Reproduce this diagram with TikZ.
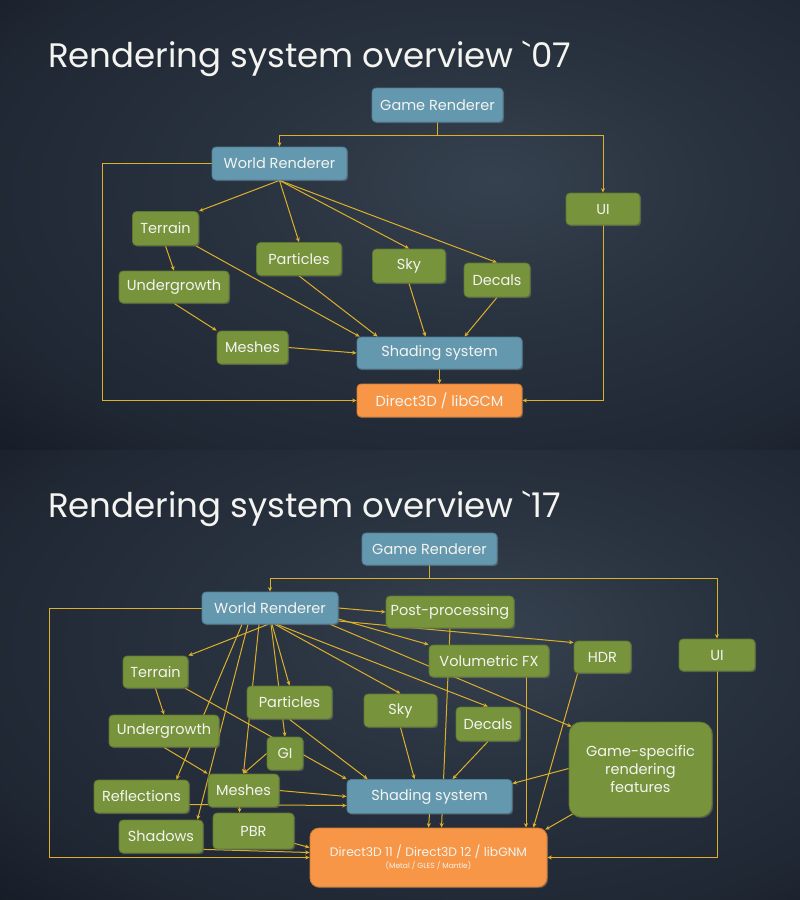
\documentclass[tikz,border=0pt]{standalone}
\usepackage{fontspec}
\setmainfont{Poppins}
\usetikzlibrary{arrows.meta,calc,shadows}
\definecolor{nblue}{HTML}{6498AF}
\definecolor{nbluedk}{HTML}{4E7E94}
\definecolor{ngreen}{HTML}{77933C}
\definecolor{ngreendk}{HTML}{5E7530}
\definecolor{norange}{HTML}{F79646}
\definecolor{norangedk}{HTML}{D07A32}
\definecolor{wire}{HTML}{DDB02A}
\definecolor{bgA}{HTML}{36414F}
\definecolor{bgB}{HTML}{1F2733}
\definecolor{bgC}{HTML}{0A0C13}
\definecolor{txt}{HTML}{F4F4F0}
\pgfdeclareradialshading{slidebg}{\pgfpoint{6bp}{5bp}}{color(0bp)=(bgA); color(16bp)=(bgB!60!bgA); color(32bp)=(bgB); color(52bp)=(bgC); color(80bp)=(bgC)}
\pgfdeclarelayer{bgl}\pgfdeclarelayer{edges}\pgfsetlayers{bgl,edges,main}
\begin{document}
\begin{tikzpicture}[x=1pt,y=-1pt,
 box/.style={rounded corners=4pt, line width=0.8pt, text=txt, font=\fontsize{14.5}{17}\selectfont, inner sep=0pt, align=center, drop shadow={opacity=0.45,shadow xshift=1.2pt,shadow yshift=-1.2pt}},
 bluebox/.style={box, fill=nblue, draw=nbluedk},
 greenbox/.style={box, fill=ngreen, draw=ngreendk},
 orangebox/.style={box, fill=norange, draw=norangedk},
 wirearrow/.style={draw=wire, line width=1pt, -{Stealth[length=4.5pt,width=4pt]}},
 wireline/.style={draw=wire, line width=1pt},
 slidetitle/.style={text=txt, font=\fontsize{34}{38}\selectfont, anchor=base west, inner sep=0pt}]
\useasboundingbox (0,0) rectangle (800,900);
\begin{pgfonlayer}{bgl}
\shade[shading=slidebg] (0,0) rectangle (800,450);
\shade[shading=slidebg] (0,450) rectangle (800,900);
\end{pgfonlayer}

% ---------- top slide ----------
\node[slidetitle] (t1) at (48,67) {Rendering system overview \textasciigrave 07};
\node[bluebox, minimum width=131pt, minimum height=34pt] (gr1) at (437.5,105) {Game Renderer};
\node[bluebox, minimum width=135pt, minimum height=33pt] (wr1) at (279.5,163.5) {World Renderer};
\node[greenbox, minimum width=74pt, minimum height=32pt] (ui1) at (603,209) {UI};
\node[greenbox, minimum width=66pt, minimum height=34pt] (ter1) at (165.5,228.5) {Terrain};
\node[greenbox, minimum width=85pt, minimum height=33pt] (par1) at (299,259) {Particles};
\node[greenbox, minimum width=73pt, minimum height=34pt] (sky1) at (409,266) {Sky};
\node[greenbox, minimum width=66pt, minimum height=34pt] (dec1) at (497,280) {Decals};
\node[greenbox, minimum width=110pt, minimum height=32pt] (und1) at (174,287) {Undergrowth};
\node[greenbox, minimum width=71pt, minimum height=33pt] (mes1) at (252.5,347.5) {Meshes};
\node[bluebox, minimum width=165pt, minimum height=32pt] (sha1) at (439.5,353) {Shading system};
\node[orangebox, minimum width=165pt, minimum height=33pt] (d3d1) at (439.5,400.5) {Direct3D / libGCM};

\begin{pgfonlayer}{edges}
\coordinate (j1) at ($(gr1.south)+(0,13.5)$);
\draw[wireline] (gr1.south) -- (j1);
\draw[wirearrow] (j1) -| (wr1.north);
\draw[wirearrow] (j1) -| (ui1.north);
\draw[wirearrow] (wr1.west) -- ++(-109,0) |- (d3d1.west);
\draw[wirearrow] (ui1.south) |- (d3d1.east);
\draw[wirearrow] (wr1.south) -- (ter1.north east);
\draw[wirearrow] (wr1.south) -- (par1.north);
\draw[wirearrow] (wr1.south) -- (sky1.north);
\draw[wirearrow] (wr1.south) -- (dec1.north);
\draw[wirearrow] (ter1.south) -- (und1.north);
\draw[wirearrow] ($(ter1.south east)+(-3,0)$) -- ($(sha1.north west)+(3,0)$);
\draw[wirearrow] (und1.south) -- (mes1.north west);
\draw[wirearrow] (par1.south) -- ($(sha1.north west)+(21,0)$);
\draw[wirearrow] (mes1.east) -- (sha1.west);
\draw[wirearrow] (sky1.south) -- ($(sha1.north)+(-14,0)$);
\draw[wirearrow] (dec1.south) -- ($(sha1.north)+(25,0)$);
\draw[wirearrow] (sha1.south) -- (d3d1.north);
\end{pgfonlayer}

% ---------- bottom slide ----------
\node[slidetitle] (t2) at (48,517) {Rendering system overview \textasciigrave 17};
\node[bluebox, minimum width=135pt, minimum height=32pt] (gr2) at (429.5,549) {Game Renderer};
\node[bluebox, minimum width=136pt, minimum height=32pt] (wr2) at (270,608) {World Renderer};
\node[greenbox, minimum width=128pt, minimum height=32pt] (pp2) at (450,612) {Post-processing};
\node[greenbox, minimum width=120pt, minimum height=32pt] (vfx2) at (489,661) {Volumetric FX};
\node[greenbox, minimum width=57pt, minimum height=32pt] (hdr2) at (602.5,657) {HDR};
\node[greenbox, minimum width=76pt, minimum height=32pt] (ui2) at (717,655) {UI};
\node[greenbox, minimum width=65pt, minimum height=32pt] (ter2) at (155.5,672) {Terrain};
\node[greenbox, minimum width=85pt, minimum height=33pt] (par2) at (289.5,702.5) {Particles};
\node[greenbox, minimum width=73pt, minimum height=33pt] (sky2) at (400.5,710.5) {Sky};
\node[greenbox, minimum width=64pt, minimum height=34pt] (dec2) at (488,724) {Decals};
\node[greenbox, rounded corners=12pt, minimum width=143pt, minimum height=95pt, font=\fontsize{14.5}{18}\selectfont] (gsf2) at (640.5,769.5) {Game-specific\\rendering\\features};
\node[greenbox, minimum width=110pt, minimum height=32pt] (und2) at (164,731) {Undergrowth};
\node[greenbox, minimum width=36pt, minimum height=33pt] (gi2) at (285,753.5) {GI};
\node[greenbox, minimum width=95pt, minimum height=33pt] (ref2) at (141.5,796.5) {Reflections};
\node[greenbox, minimum width=71pt, minimum height=33pt] (mes2) at (243.5,790.5) {Meshes};
\node[bluebox, minimum width=165pt, minimum height=34pt] (sha2) at (429.5,796.5) {Shading system};
\node[greenbox, minimum width=84pt, minimum height=33pt] (shd2) at (161,836.5) {Shadows};
\node[greenbox, minimum width=81pt, minimum height=36pt] (pbr2) at (253.5,831) {PBR};
\node[orangebox, rounded corners=9pt, minimum width=237pt, minimum height=59pt, font=\fontsize{12.3}{13}\selectfont] (d3d2) at (428.5,857.5) {Direct3D 11 / Direct3D 12 / libGNM\\[-1pt]{\fontsize{7.5}{8}\selectfont (Metal / GLES / Mantle)}};

\begin{pgfonlayer}{edges}
\coordinate (j2) at ($(gr2.south)+(0,13.5)$);
\draw[wireline] (gr2.south) -- (j2);
\draw[wirearrow] (j2) -| (wr2.north);
\draw[wirearrow] (j2) -| (ui2.north);
\draw[wirearrow] (wr2.west) -- ++(-152,0) |- (d3d2.west);
\draw[wirearrow] (ui2.south) |- (d3d2.east);
% from World Renderer, right side
\draw[wirearrow] (wr2.east) -- (pp2.west);
\draw[wirearrow] ($(wr2.east)+(0,11)$) -- (vfx2.north west);
\draw[wirearrow] ($(wr2.east)+(0,13)$) -- ($(hdr2.north west)+(0,2)$);
\draw[wirearrow] ($(wr2.south east)+(-8,0)$) -- ($(gsf2.north west)+(3,5)$);
% from World Renderer, bottom fan
\draw[wirearrow] ($(wr2.south)+(-2,0)$) -- (ter2.north east);
\draw[wirearrow] ($(wr2.south)+(-28,0)$) -- ($(ref2.north east)+(-13,0)$);
\draw[wirearrow] ($(wr2.south)+(-22,0)$) -- ($(shd2.north east)+(-6,0)$);
\draw[wirearrow] ($(wr2.south)+(-11,0)$) -- (mes2.north);
\draw[wirearrow] ($(wr2.south)+(1,0)$) -- (gi2.north);
\draw[wirearrow] ($(wr2.south)+(2,0)$) -- (par2.north);
\draw[wirearrow] ($(wr2.south)+(5,0)$) -- (sky2.north);
\draw[wirearrow] ($(wr2.south)+(7,0)$) -- (dec2.north);
% others
\draw[wirearrow] (ter2.south) -- (und2.north);
\draw[wirearrow] ($(ter2.south east)+(-3,0)$) -- (sha2.north west);
\draw[wirearrow] (par2.south) -- ($(sha2.north west)+(21,0)$);
\draw[wirearrow] (und2.south) -- (mes2.north west);
\draw[wirearrow] (gi2.west) -- (mes2.north);
\draw[wirearrow] (mes2.east) -- (sha2.west);
\draw[wirearrow] ($(ref2.east)+(0,8)$) -- ($(sha2.west)+(0,9)$);
\draw[wirearrow] ($(mes2.south)+(-4,0)$) -- ($(mes2.south|-pbr2.north)+(-4,0)$);
\draw[wirearrow] ($(pbr2.south east)+(0,-6)$) -- ($(d3d2.west)+(0,-10)$);
\draw[wirearrow] ($(shd2.south east)+(0,-4)$) -- ($(d3d2.west)+(0,-5)$);
\draw[wirearrow] (sky2.south) -- ($(sha2.north)+(-15,0)$);
\draw[wirearrow] (dec2.south) -- ($(sha2.north)+(23,0)$);
\draw[wirearrow] ($(gsf2.west)+(0,-1)$) -- ($(sha2.east)+(0,-13)$);
\draw[wirearrow] ($(gsf2.south west)+(5,-4)$) -- ($(d3d2.north east)+(-2,2)$);
\draw[wirearrow] (pp2.south) -- ($(d3d2.north)+(13,0)$);
\draw[wirearrow] (sha2.south) -- (d3d2.north);
\draw[wirearrow] ($(vfx2.south)+(37,0)$) -- ($(vfx2.south|-d3d2.north)+(37,0)$);
\draw[wirearrow] ($(hdr2.south west)+(4,0)$) -- ($(d3d2.north east)+(-14,0)$);
\end{pgfonlayer}
\end{tikzpicture}
\end{document}
